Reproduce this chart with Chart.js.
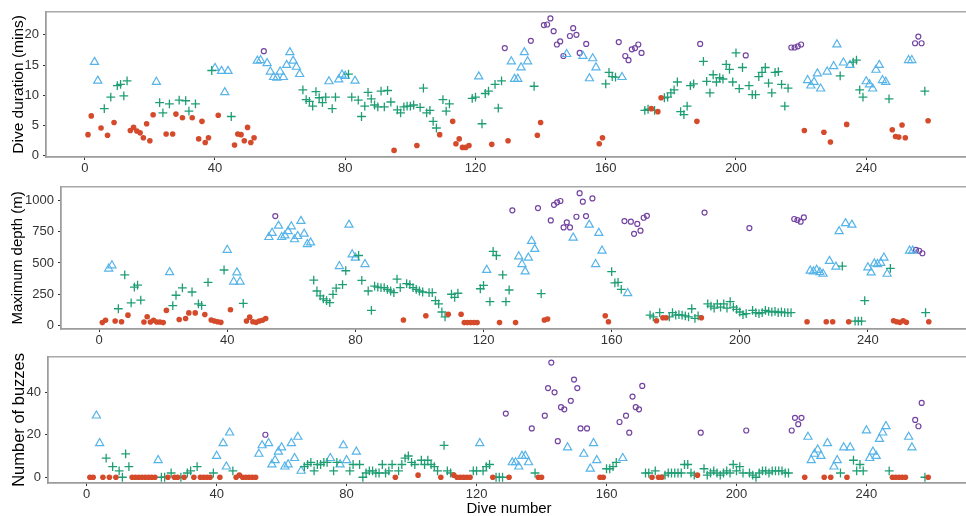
<!DOCTYPE html>
<html>
<head>
<meta charset="utf-8">
<script src="https://cdn.jsdelivr.net/npm/chart.js@4.4.1/dist/chart.umd.min.js"></script>
<style>
html, body { margin: 0; padding: 0; background: #fff; overflow: hidden; width: 966px; height: 516px; }
.panel { position: absolute; left: 0; width: 976px; }
</style>
</head>
<body>
<div class="panel" style="top:0;height:175px"><canvas id="durChart"></canvas></div>
<div class="panel" style="top:175px;height:170px"><canvas id="depthChart"></canvas></div>
<div class="panel" style="top:345px;height:171px"><canvas id="buzzChart"></canvas></div>
<script>
// dive class per dive (R = red dot, G = green plus, B = blue triangle, P = purple circle)
var diveClass = ("RRBBRGRGRG" + "GGGRRRRRRR" + "RBGGRGRRGR" + "GGRGRRRRGB" + "RBBBGRRRRR" +
                 "RRBBPBBBBB" + "BBBBBBGGGG" + "GGGGBGGBBB" + "GGBGGGGGGG" + "GGGGRGGGGG" +
                 "GRGGGGGGRG" + "GGRRRRRRGG" + "BGGGRGGGPR" + "BBBBBBPGRR" + "PPPPPPPBPP" +
                 "PPBPBBBRRG" + "GGGPBPPPPP" + "PGGRGRRGGG" + "GGGGGGGRPG" + "GGGGGGGGGG" +
                 "GGPGGGGGGG" + "GGGGGGPPPP" + "RBBBBBRBRB" + "BGBRBGGGGB" + "BBBBBBGRRR" +
                 "RRBBPPPGR").split('');

var duration = [
    3.5,6.6,15.5,12.4,4.6,7.8,3.4,9.7,5.5,11.6,
    11.8,9.9,12.4,4.2,4.7,4.1,3.8,3.0,5.3,2.5,
    6.8,12.2,8.8,7.1,3.6,8.6,3.6,6.9,9.2,6.3,
    9.1,7.4,6.3,8.6,2.8,5.7,2.2,3.0,14.1,14.5,
    6.7,14.0,10.5,14.0,6.5,1.8,3.6,3.5,2.5,4.7,
    2.2,3.0,15.7,15.8,17.3,15.3,13.9,13.0,12.9,13.9,
    13.0,15.0,17.1,15.7,14.7,13.5,10.9,9.3,9.0,8.2,
    10.6,9.6,8.8,9.7,12.3,7.8,9.7,12.6,13.4,13.2,
    13.5,9.7,12.4,9.2,6.5,8.2,10.5,9.4,8.4,8.1,
    10.7,8.1,10.8,8.9,0.9,7.6,7.1,8.1,8.2,8.2,
    8.4,1.7,8.0,11.2,7.1,7.5,5.7,4.6,3.5,9.3,
    7.4,8.6,5.7,2.0,2.8,1.4,1.4,1.7,9.5,9.7,
    13.1,5.3,10.3,10.7,1.9,11.8,7.9,12.4,17.8,2.5,
    15.6,12.7,12.7,14.6,17.1,15.6,19.0,11.5,3.4,5.5,
    21.6,21.7,22.7,20.6,18.4,18.9,16.5,16.8,19.8,21.1,
    20.0,17.0,16.5,18.5,12.8,16.1,14.6,2.0,3.0,11.9,
    13.8,13.1,13.0,18.8,13.0,16.5,15.8,17.6,17.8,18.4,
    17.0,7.5,7.7,7.8,7.5,7.3,9.6,9.6,9.7,10.4,
    10.9,12.2,7.3,6.8,8.2,11.6,11.9,5.7,18.5,15.6,
    12.3,10.4,13.4,12.2,12.9,12.7,15.1,14.3,12.2,17.0,
    11.1,14.6,16.6,11.6,10.1,10.1,13.1,13.8,14.6,12.0,
    10.4,13.8,13.9,11.8,8.2,11.2,17.9,17.9,18.1,18.4,
    4.2,12.5,11.6,12.2,13.6,11.1,3.9,13.9,2.3,14.8,
    18.4,13.2,15.4,5.2,15.0,15.5,15.8,10.9,9.7,12.3,
    11.8,11.1,14.2,15.0,12.5,12.2,9.4,4.3,3.2,3.1,
    5.1,3.0,15.8,15.8,18.6,19.7,18.6,10.7,5.8
];

var depth = [
    26,44,454,480,38,136,33,405,85,182,
    308,323,205,31,72,31,44,31,31,26,
    123,425,160,243,51,302,59,103,269,103,
    174,162,90,346,46,38,33,28,444,603,
    128,351,423,351,179,38,69,33,28,38,
    44,59,705,738,872,795,705,718,751,790,
    687,713,833,731,649,662,364,277,238,215,
    200,185,250,300,474,328,438,803,567,541,
    559,362,490,277,123,315,308,303,303,290,
    277,264,372,303,46,336,328,303,290,277,
    269,80,264,264,200,174,110,72,92,251,
    226,259,92,26,26,26,26,26,295,321,
    444,192,592,559,26,405,192,285,918,26,
    551,490,431,541,674,610,936,256,46,54,
    838,962,982,992,782,823,782,700,867,1054,
    987,872,803,1013,490,738,597,80,33,431,
    341,346,290,833,259,828,731,810,756,859,
    874,85,72,41,105,64,64,72,105,85,
    90,85,79,72,136,59,80,64,900,174,
    156,141,174,149,174,141,192,149,131,110,
    90,97,777,123,105,97,105,123,115,110,
    115,105,110,105,105,105,849,841,828,862,
    33,438,431,444,426,413,33,515,33,469,
    751,474,815,33,803,38,38,38,200,464,
    423,495,490,500,541,413,456,41,33,28,
    41,28,597,597,603,597,577,105,33
];

var buzzes = [
    0,0,29,16,0,9,0,5,0,3,
    0,11,5,0,0,0,0,0,0,0,
    0,8,0,0,0,2,0,0,0,0,
    2,3,0,5,0,0,0,0,2,10,
    0,16,5,21,3,0,1,0,0,0,
    0,0,11,15,20,16,6,8,12,14,
    5,6,16,9,19,3,5,6,7,3,
    6,6,7,7,9,3,7,6,15,8,
    3,6,12,6,0,2,3,3,2,2,
    6,2,3,6,0,3,6,9,10,7,
    6,1,8,6,8,6,5,3,0,15,
    3,2,1,0,0,0,0,0,3,3,
    16,3,5,6,0,0,0,0,30,0,
    7,7,5,10,10,7,23,2,0,0,
    29,42,54,40,17,33,32,14,36,46,
    42,23,11,23,4,16,8,0,0,4,
    4,5,7,26,9,29,21,38,33,32,
    43,2,2,0,3,0,0,1,2,2,
    2,2,2,6,6,2,1,1,21,4,
    1,2,3,2,1,2,3,2,6,3,
    5,2,22,2,1,0,2,3,3,2,
    3,3,3,3,2,2,22,28,25,28,
    0,19,8,11,13,10,0,16,0,5,
    8,2,14,0,14,8,3,6,3,22,
    9,12,10,18,21,24,3,0,0,0,
    0,0,19,14,27,24,35,0,0
];

var xTicks = [0, 40, 80, 120, 160, 200, 240];
var durationTicks = [0, 5, 10, 15, 20];
var depthTicks = [0, 250, 500, 750, 1000];
var buzzTicks = [0, 20, 40];

var classOrder = ['R', 'G', 'B', 'P'];
var classStyle = {
    R: { shape: 'circle',   radius: 2.8, color: '#d44a2a', filled: true,  width: 0 },
    G: { shape: 'cross',    radius: 4.4, color: '#1f9e74', filled: false, width: 1.3 },
    B: { shape: 'triangle', radius: 4.7, color: '#56b4e9', filled: false, width: 1.2 },
    P: { shape: 'circle',   radius: 2.5, color: '#7444a2', filled: false, width: 1.2 }
};

var FONT = 'Liberation Sans, Arial, Helvetica, sans-serif';
var AXIS_GREY = '#9c9c9c';

function datasetsFor(values) {
    return classOrder.map(function(c) {
        var s = classStyle[c];
        var pts = [];
        values.forEach(function(v, i) {
            if (diveClass[i] === c) pts.push({ x: i + 1, y: v });
        });
        return {
            label: c,
            data: pts,
            pointStyle: s.shape,
            pointRadius: s.radius,
            pointBorderColor: s.color,
            pointBackgroundColor: s.filled ? s.color : 'rgba(0,0,0,0)',
            pointBorderWidth: s.width,
            borderColor: s.color,
            backgroundColor: s.filled ? s.color : 'rgba(0,0,0,0)'
        };
    });
}

// ggplot-like panel frame
var framePlugin = {
    id: 'frame',
    afterDraw: function(chart) {
        var a = chart.chartArea, ctx = chart.ctx;
        ctx.save();
        ctx.strokeStyle = AXIS_GREY;
        ctx.lineWidth = 1.3;
        ctx.strokeRect(a.left, a.top, a.right - a.left, a.bottom - a.top);
        ctx.restore();
    }
};

function plainLabel(v) { return String(v); }

function makePanel(id, values, p) {
    var ctx = document.getElementById(id);
    return new Chart(ctx, {
        type: 'scatter',
        data: { datasets: datasetsFor(values) },
        options: {
            responsive: true,
            maintainAspectRatio: false,
            animation: false,
            events: [],
            layout: { padding: { top: p.padTop, right: 5, left: 0, bottom: 0 } },
            plugins: { legend: { display: false }, tooltip: { enabled: false } },
            scales: {
                x: {
                    type: 'linear',
                    min: -11.9,
                    max: 271.9,
                    afterBuildTicks: function(s) { s.ticks = xTicks.map(function(v) { return { value: v }; }); },
                    afterFit: function(s) { s.height = p.xHeight; },
                    grid: { display: true, drawOnChartArea: false, drawTicks: true, tickLength: 3, color: '#333', lineWidth: 1 },
                    border: { display: true, color: AXIS_GREY, width: 1.3 },
                    ticks: { color: '#333', padding: 1, maxRotation: 0, autoSkip: false, callback: plainLabel,
                             font: { family: FONT, size: 13 } },
                    title: {
                        display: !!p.xTitle,
                        text: p.xTitle || '',
                        color: '#000',
                        padding: { top: 0, bottom: 0 },
                        font: { family: FONT, size: 15, lineHeight: 1.0 }
                    }
                },
                y: {
                    type: 'linear',
                    min: p.yMin,
                    max: p.yMax,
                    afterBuildTicks: function(s) { s.ticks = p.yTicks.map(function(v) { return { value: v }; }); },
                    afterFit: function(s) { s.width = p.yWidth; },
                    grid: { display: true, drawOnChartArea: false, drawTicks: true, tickLength: 3, color: '#333', lineWidth: 1 },
                    border: { display: true, color: AXIS_GREY, width: 1.3 },
                    ticks: { color: '#333', padding: 4, callback: plainLabel, font: { family: FONT, size: 13 } },
                    title: {
                        display: true,
                        text: p.yTitle,
                        color: '#000',
                        padding: { top: p.titlePad, bottom: 0 },
                        font: { family: FONT, size: p.titleSize }
                    }
                }
            }
        },
        plugins: [framePlugin]
    });
}

makePanel('durChart', duration, {
    padTop: 10, xHeight: 18, yWidth: 46, yMin: -0.19, yMax: 23.8,
    yTicks: durationTicks, yTitle: 'Dive duration (mins)', titleSize: 15.5, titlePad: 9
});
makePanel('depthChart', depth, {
    padTop: 7, xHeight: 16, yWidth: 61, yMin: -25, yMax: 1105,
    yTicks: depthTicks, yTitle: 'Maximum depth (m)', titleSize: 15, titlePad: 9
});
makePanel('buzzChart', buzzes, {
    padTop: 9, xHeight: 33, yWidth: 48, yMin: -2.7, yMax: 56.7,
    yTicks: buzzTicks, yTitle: 'Number of buzzes', titleSize: 16.5, titlePad: 10,
    xTitle: 'Dive number'
});
</script>
</body>
</html>
